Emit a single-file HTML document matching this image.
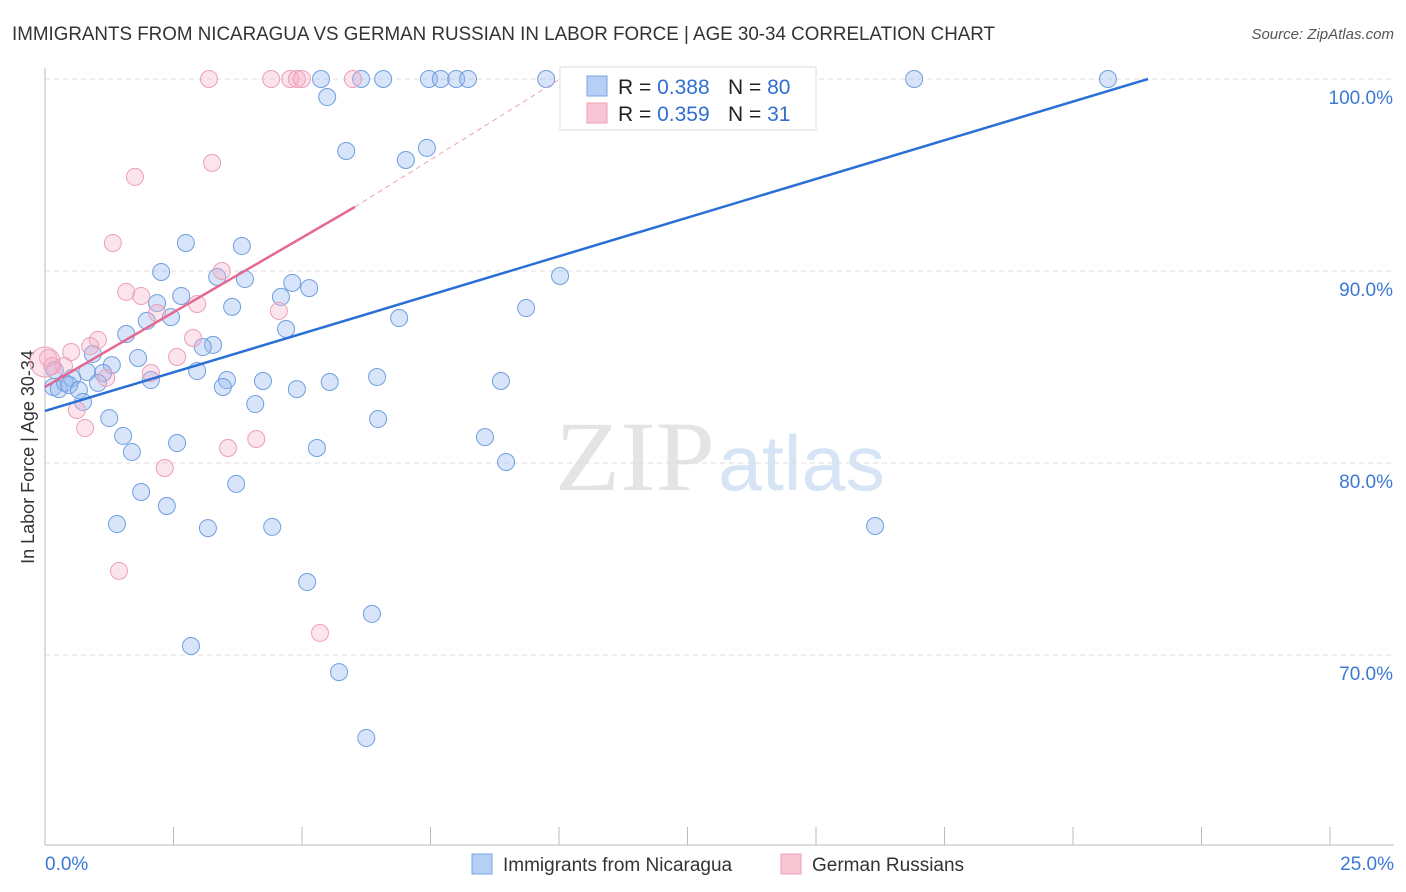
<!DOCTYPE html>
<html><head><meta charset="utf-8"><style>
body{margin:0;background:#fff;font-family:"Liberation Sans",sans-serif;}
#wrap{position:relative;width:1406px;height:892px;overflow:hidden;}
</style></head><body>
<div id="wrap">
<svg id="chart" width="1406" height="892" xmlns="http://www.w3.org/2000/svg">
<text x="12" y="40" font-size="19" fill="#333" textLength="983" lengthAdjust="spacingAndGlyphs">IMMIGRANTS FROM NICARAGUA VS GERMAN RUSSIAN IN LABOR FORCE | AGE 30-34 CORRELATION CHART</text>
<text x="1394" y="39" font-size="15" fill="#555" font-style="italic" text-anchor="end">Source: ZipAtlas.com</text>
<text x="555" y="490" font-size="100" fill="#e4e4e4" textLength="160" lengthAdjust="spacingAndGlyphs" font-family="Liberation Serif">ZIP</text>
<text x="718" y="490" font-size="78" fill="#d6e4f5" textLength="167" lengthAdjust="spacingAndGlyphs">atlas</text>
<text transform="translate(34,457) rotate(-90)" font-size="18" fill="#333" text-anchor="middle">In Labor Force | Age 30-34</text>
<g id="grid"></g><g id="marks"></g><g id="lines"></g>
<g>
<rect x="560" y="67" width="256" height="63" fill="#fff" stroke="#ddd"/>
<rect x="587" y="76" width="20" height="20" fill="#b5cff5" stroke="#7aa6e0"/>
<rect x="587" y="103" width="20" height="20" fill="#f8c5d5" stroke="#eca0b8"/>
<text x="618" y="94" font-size="21" fill="#222">R = <tspan fill="#2f6fd0">0.388</tspan></text>
<text x="728" y="94" font-size="21" fill="#222">N = <tspan fill="#2f6fd0">80</tspan></text>
<text x="618" y="121" font-size="21" fill="#222">R = <tspan fill="#2f6fd0">0.359</tspan></text>
<text x="728" y="121" font-size="21" fill="#222">N = <tspan fill="#2f6fd0"> 31</tspan></text>
</g>
<g>
<rect x="472" y="854" width="20" height="20" fill="#b5cff5" stroke="#7aa6e0"/>
<text x="503" y="871" font-size="19" fill="#333">Immigrants from Nicaragua</text>
<rect x="781" y="854" width="20" height="20" fill="#f8c5d5" stroke="#eca0b8"/>
<text x="812" y="871" font-size="19" fill="#333">German Russians</text>
</g>
</svg>
</div>
<script>
const yTicks=[100,90,80,70];
const yTickLabels=["100.0%","90.0%","80.0%","70.0%"];
const xTicks=[0,2.5,5,7.5,10,12.5,15,17.5,20,22.5,25];
const xEndLabels=["0.0%","25.0%"];
const blueX=[5.37,6.15,6.58,7.47,7.70,8.00,8.23,9.75,10.74,16.91,20.68,5.49,5.86,7.43,7.02,2.74,3.83,2.26,3.35,3.89,10.02,4.81,5.14,2.65,4.59,2.18,3.64,2.45,1.98,6.89,9.36,4.69,1.58,3.27,3.07,0.93,1.81,1.30,0.82,1.13,2.96,2.06,0.19,0.53,0.16,0.27,0.39,0.47,1.03,3.54,4.24,5.54,6.46,8.87,3.46,4.90,0.66,0.74,4.09,1.25,6.48,1.52,8.56,2.57,1.69,5.29,8.97,3.72,1.87,2.37,1.40,3.17,4.42,16.15,5.10,6.36,2.84,5.72,6.25,10.41];
const blueY=[100,100,100,100,100,100,100,100,99.84,100,100,99.06,96.25,96.41,95.78,91.46,91.30,89.95,89.69,89.58,89.74,89.38,89.11,88.70,88.65,88.33,88.13,87.60,87.40,87.55,88.07,86.98,86.72,86.15,86.04,85.68,85.47,85.10,84.74,84.69,84.79,84.32,84.84,84.43,83.96,83.85,84.17,84.06,84.17,84.32,84.27,84.22,84.48,84.27,83.96,83.85,83.80,83.18,83.07,82.34,82.29,81.41,81.35,81.04,80.57,80.78,80.05,78.91,78.49,77.76,76.82,76.61,76.67,76.72,73.80,72.14,70.47,69.11,65.68,98.49];
const pinkX=[3.19,4.40,4.77,4.90,5.00,5.99,3.25,1.75,1.32,3.44,1.58,1.87,2.96,2.18,4.55,2.88,1.03,0.51,0.88,2.57,0.06,0.37,0.14,2.06,1.19,0.62,0.78,4.11,3.56,2.33,1.44,5.35,0];
const pinkY=[100,100,100,100,100,100,95.63,94.90,91.46,90.00,88.91,88.70,88.28,87.81,87.92,86.51,86.41,85.78,86.09,85.52,85.47,85.05,85.05,84.69,84.43,82.76,81.82,81.25,80.78,79.74,74.38,71.15,85.26];
const blueTrend=[[0,82.71],[21.46,100]];
const pinkTrend=[[0,83.96],[6.03,93.34],[10.02,100]];
const sx=v=>45+v*51.4, sy=v=>79+(100-v)*19.2;
const NS="http://www.w3.org/2000/svg";
function mk(t,a,p){const e=document.createElementNS(NS,t);for(const k in a)e.setAttribute(k,a[k]);p.appendChild(e);return e;}
const grid=document.getElementById('grid'),marks=document.getElementById('marks'),lines=document.getElementById('lines');
yTicks.forEach((t,i)=>{
 const l=mk('line',{x1:45,x2:1394,y1:sy(t),y2:sy(t),stroke:'#ddd','stroke-dasharray':'5,4'},grid);
 
 
 const tx=mk('text',{x:1393,y:sy(t)+25,'font-size':19,fill:'#3a78d4','text-anchor':'end'},grid);tx.textContent=yTickLabels[i];
 
 
});
const ax=mk('line',{x1:45,x2:45,y1:68,y2:845,stroke:'#bbb'},grid);


const bx=mk('line',{x1:45,x2:1394,y1:845,y2:845,stroke:'#bbb'},grid);


xTicks.forEach(t=>{const l=mk('line',{x1:sx(t),x2:sx(t),y1:827,y2:845,stroke:'#bbb'},grid);
 
 });
[[0,'start'],[25,'end']].forEach((p,i)=>{const t=mk('text',{x:i?1394:45,y:870,'font-size':19,fill:'#3a78d4','text-anchor':p[1]},grid);t.textContent=xEndLabels[i];
 
 });
blueX.forEach((x,i)=>{const c=mk('circle',{cx:sx(x),cy:sy(blueY[i]),r:8.5,fill:'rgba(150,185,240,0.38)',stroke:'#6f9fe0','stroke-width':1},marks);
 
 });
pinkX.forEach((x,i)=>{const big=i===pinkX.length-1;const c=mk('circle',{cx:sx(x),cy:sy(pinkY[i]),r:big?15:8.5,fill:'rgba(245,170,195,0.32)',stroke:'#eba0b8','stroke-width':1},marks);
 
 });
const bl=mk('line',{x1:sx(blueTrend[0][0]),y1:sy(blueTrend[0][1]),x2:sx(blueTrend[1][0]),y2:sy(blueTrend[1][1]),stroke:'#2a6fd6','stroke-width':2.5},lines);


const pl=mk('line',{x1:sx(pinkTrend[0][0]),y1:sy(pinkTrend[0][1]),x2:sx(pinkTrend[1][0]),y2:sy(pinkTrend[1][1]),stroke:'#e46892','stroke-width':2.5},lines);


const pd=mk('line',{x1:sx(pinkTrend[1][0]),y1:sy(pinkTrend[1][1]),x2:sx(pinkTrend[2][0]),y2:sy(pinkTrend[2][1]),stroke:'#eba0b8','stroke-width':1,'stroke-dasharray':'5,4'},lines);


</script>
</body></html>
